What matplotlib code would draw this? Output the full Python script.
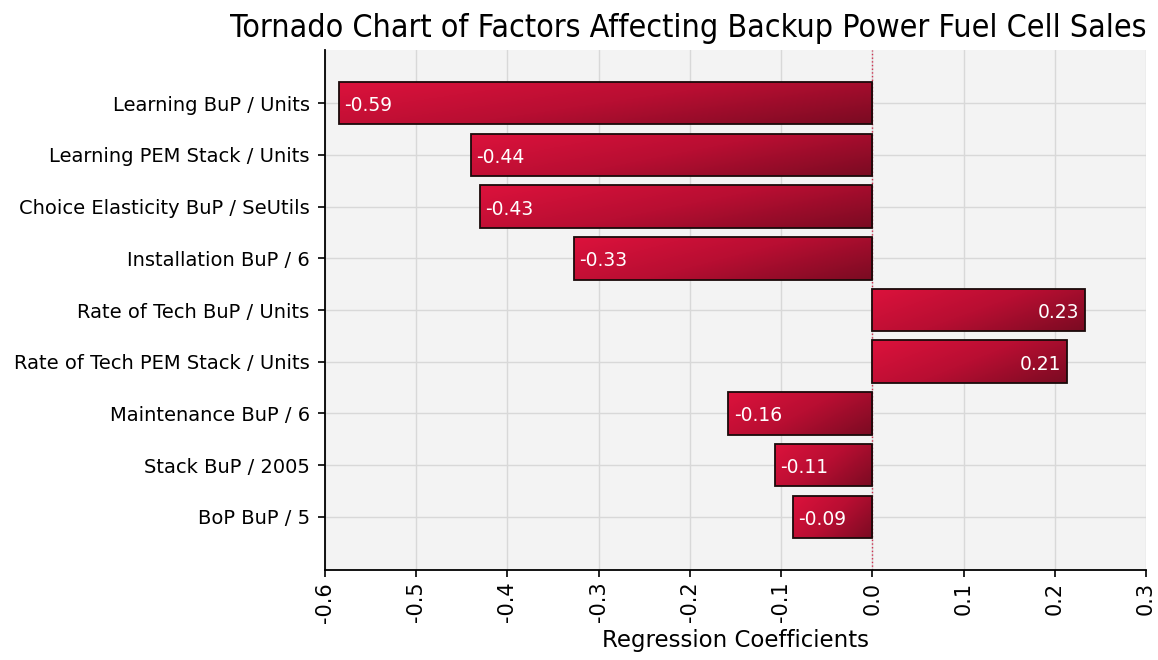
import numpy as np
import matplotlib.pyplot as plt
from matplotlib.colors import LinearSegmentedColormap

# datos del grafico
factores = ['Learning BuP / Units', 'Learning PEM Stack / Units',
            'Choice Elasticity BuP / SeUtils', 'Installation BuP / 6',
            'Rate of Tech BuP / Units', 'Rate of Tech PEM Stack / Units',
            'Maintenance BuP / 6', 'Stack BuP / 2005', 'BoP BuP / 5']
coeficientes = [-0.585, -0.44, -0.43, -0.327, 0.233, 0.213, -0.158, -0.107, -0.087]
etiquetas = ['-0.59', '-0.44', '-0.43', '-0.33', '0.23', '0.21', '-0.16', '-0.11', '-0.09']
xticks = [-0.6, -0.5, -0.4, -0.3, -0.2, -0.1, 0.0, 0.1, 0.2, 0.3]

plt.rcParams['font.family'] = ['DejaVu Sans']

fig = plt.figure(figsize=(11.58, 6.6), dpi=100)
ax = fig.add_axes([325 / 1158, 1 - 570 / 660, (1146 - 325) / 1158, (570 - 50) / 660])
ax.set_facecolor('#f3f3f3')

y = np.arange(len(factores))
barras = ax.barh(y, coeficientes, height=0.82, color='none', edgecolor='#1a0a0a',
                 linewidth=1.3, zorder=3)

# degradado rojo en cada barra
cmap = LinearSegmentedColormap.from_list('rojo', ['#dc123c', '#b80e32', '#7a0b22'])
gx, gy = np.meshgrid(np.linspace(0, 1, 200), np.linspace(0, 1, 40))
grad = 0.65 * gx + 0.35 * gy
for b in barras:
    x0, y0 = b.get_x(), b.get_y()
    w, h = b.get_width(), b.get_height()
    im = ax.imshow(grad, cmap=cmap, aspect='auto', zorder=2,
                   extent=[min(x0, x0 + w), max(x0, x0 + w), y0 + h, y0],
                   interpolation='bilinear')
    im.set_clip_path(b)

for i, (v, t) in enumerate(zip(coeficientes, etiquetas)):
    if v < 0:
        ax.text(v + 0.006, i + 0.05, t, color='white', fontsize=13.5,
                ha='left', va='center', zorder=4)
    else:
        ax.text(v - 0.006, i + 0.05, t, color='white', fontsize=13.5,
                ha='right', va='center', zorder=4)

ax.axvline(0, color='#d03050', linestyle=':', linewidth=1, zorder=1)

ax.set_xlim(-0.6, 0.3)
ax.set_ylim(len(factores) - 1 + 1.03, -1.03)
ax.set_xticks(xticks)
ax.set_xticklabels(['%.1f' % v for v in xticks], rotation=90, fontsize=15)
ax.set_yticks(y)
ax.set_yticklabels(factores, fontsize=14)
ax.grid(True, color='#d8d8d8', linewidth=1, zorder=0)
ax.set_axisbelow(True)

for s in ['top', 'right']:
    ax.spines[s].set_visible(False)
ax.spines['left'].set_linewidth(1.3)
ax.spines['bottom'].set_linewidth(1.3)
ax.tick_params(axis='both', length=5, width=1.2, colors='black')
ax.tick_params(axis='y', pad=6)

ax.set_xlabel('Regression Coefficients', fontsize=16.5, labelpad=5)
fig.text(1146 / 1158, 1 - 28 / 660, 'Tornado Chart of Factors Affecting Backup Power Fuel Cell Sales',
         ha='right', va='center', fontsize=23, fontstretch='condensed')

fig.savefig('out.png', dpi=100)
